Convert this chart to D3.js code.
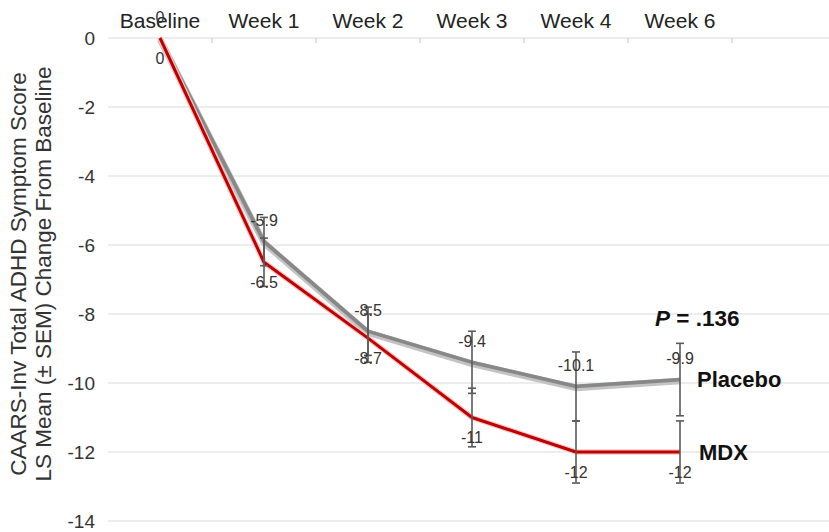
<!DOCTYPE html>
<html>
<head>
<meta charset="utf-8">
<script src="https://cdn.jsdelivr.net/npm/d3@7"></script>
<style>
  html, body { margin: 0; padding: 0; background: #fff; }
  svg { display: block; font-family: "Liberation Sans", Arial, Helvetica, sans-serif; }
</style>
</head>
<body>
<svg id="chart" width="829" height="532"></svg>
<script>
// Visits along the top axis
const categories = ["Baseline", "Week 1", "Week 2", "Week 3", "Week 4", "Week 6"];
// LS mean change from baseline
const placeboMean = [0, -5.9, -8.5, -9.4, -10.1, -9.9];
const mdxMean = [0, -6.5, -8.7, -11, -12, -12];
// Standard error of the mean
const placeboSem = [0, 0.7, 0.7, 0.9, 1.0, 1.05];
const mdxSem = [0, 0.7, 0.7, 0.85, 0.9, 0.9];
// Y axis tick values
const yTicks = [0, -2, -4, -6, -8, -10, -12, -14];
const pValueText = ".136";

const svg = d3.select("#chart");
const plotLeft = 108, plotRight = 829;

const x = d3.scaleBand().domain(categories).range([108, 732]).paddingInner(0).paddingOuter(0);
const y = d3.scaleLinear().domain([0, -14]).range([38, 521]);
const cx = c => x(c) + x.bandwidth() / 2;
const fmt = d => d === 0 ? "0" : "-" + Math.abs(d);

// Horizontal gridlines
svg.append("g").selectAll("line").data(yTicks).join("line")
  .attr("x1", plotLeft).attr("x2", plotRight)
  .attr("y1", d => y(d)).attr("y2", d => y(d))
  .attr("stroke", "#dcdcdc").attr("stroke-width", 1.2);

// Y tick labels
svg.append("g").selectAll("text").data(yTicks).join("text")
  .attr("x", 95).attr("y", d => y(d))
  .attr("text-anchor", "end").attr("dominant-baseline", "central")
  .attr("font-size", 19).attr("fill", "#333")
  .text(fmt);

// Top category axis
const topAxis = d3.axisTop(x).tickSize(0).tickPadding(0);
const gx = svg.append("g").attr("transform", `translate(0, ${y(0)})`).call(topAxis);
gx.select(".domain").remove();
gx.selectAll("text").attr("font-size", 21).attr("fill", "#222")
  .attr("font-family", "Liberation Sans, Arial, sans-serif")
  .attr("y", -10);
// Small tick marks at band boundaries
const boundaries = categories.slice(1).map(c => x(c)).concat([x.range()[1]]);
svg.append("g").selectAll("line").data(boundaries).join("line")
  .attr("x1", d => d).attr("x2", d => d)
  .attr("y1", y(0)).attr("y2", y(0) + 5)
  .attr("stroke", "#cfcfcf").attr("stroke-width", 1.2);

// Y axis title
const yTitle = svg.append("text")
  .attr("transform", `translate(0, 274) rotate(-90)`)
  .attr("text-anchor", "middle").attr("font-size", 22.5).attr("fill", "#333");
yTitle.append("tspan").attr("x", 0).attr("y", 26).text("CAARS-Inv Total ADHD Symptom Score");
yTitle.append("tspan").attr("x", 0).attr("y", 51).text("LS Mean (± SEM) Change From Baseline");

const line = d3.line().x((d, i) => cx(categories[i])).y(d => y(d));

// Placebo line with soft shading
svg.append("path").datum(placeboMean).attr("d", line)
  .attr("fill", "none").attr("stroke", "#c4c4c4").attr("stroke-width", 6.5)
  .attr("stroke-linejoin", "round").attr("transform", "translate(0,1.5)");
svg.append("path").datum(placeboMean).attr("d", line)
  .attr("fill", "none").attr("stroke", "#888").attr("stroke-width", 3.8)
  .attr("stroke-linejoin", "round");

// MDX line
svg.append("path").datum(mdxMean).attr("d", line)
  .attr("fill", "none").attr("stroke", "#f2c6c6").attr("stroke-width", 5.5)
  .attr("stroke-linejoin", "round");
svg.append("path").datum(mdxMean).attr("d", line)
  .attr("fill", "none").attr("stroke", "#c00000").attr("stroke-width", 3)
  .attr("stroke-linejoin", "round");

// Error bars (± SEM) for both groups
function errorBars(mean, sem) {
  const rows = mean.map((m, i) => ({ c: categories[i], m, s: sem[i] })).filter(d => d.s > 0);
  const g = svg.append("g").attr("stroke", "#5a5a5a").attr("stroke-width", 1.6);
  g.selectAll(".v").data(rows).join("line")
    .attr("x1", d => cx(d.c)).attr("x2", d => cx(d.c))
    .attr("y1", d => y(d.m + d.s)).attr("y2", d => y(d.m - d.s));
  g.selectAll(".t").data(rows).join("line")
    .attr("x1", d => cx(d.c) - 4).attr("x2", d => cx(d.c) + 4)
    .attr("y1", d => y(d.m + d.s)).attr("y2", d => y(d.m + d.s));
  g.selectAll(".b").data(rows).join("line")
    .attr("x1", d => cx(d.c) - 4).attr("x2", d => cx(d.c) + 4)
    .attr("y1", d => y(d.m - d.s)).attr("y2", d => y(d.m - d.s));
}
errorBars(placeboMean, placeboSem);
errorBars(mdxMean, mdxSem);

// Data labels: placebo above, MDX below
svg.append("g").selectAll("text").data(placeboMean).join("text")
  .attr("x", (d, i) => cx(categories[i])).attr("y", d => y(d) - 21)
  .attr("text-anchor", "middle").attr("dominant-baseline", "central")
  .attr("font-size", 16).attr("fill", "#333")
  .text(fmt);
svg.append("g").selectAll("text").data(mdxMean).join("text")
  .attr("x", (d, i) => cx(categories[i])).attr("y", d => y(d) + 20)
  .attr("text-anchor", "middle").attr("dominant-baseline", "central")
  .attr("font-size", 16).attr("fill", "#333")
  .text(fmt);

// Series labels at the end of each line
const lastIdx = categories.length - 1;
const endX = cx(categories[lastIdx]) + 17;
svg.append("text").attr("x", endX).attr("y", y(placeboMean[lastIdx]))
  .attr("dominant-baseline", "central").attr("font-size", 22).attr("font-weight", "bold")
  .attr("fill", "#111").text("Placebo");
svg.append("text").attr("x", endX + 2).attr("y", y(mdxMean[lastIdx]))
  .attr("dominant-baseline", "central").attr("font-size", 22).attr("font-weight", "bold")
  .attr("fill", "#111").text("MDX");

// P value annotation
const pText = svg.append("text").attr("x", 655).attr("y", 318)
  .attr("dominant-baseline", "central").attr("font-size", 22.5).attr("font-weight", "bold")
  .attr("fill", "#111");
pText.append("tspan").attr("font-style", "italic").text("P");
pText.append("tspan").text(" = " + pValueText);
</script>
</body>
</html>
